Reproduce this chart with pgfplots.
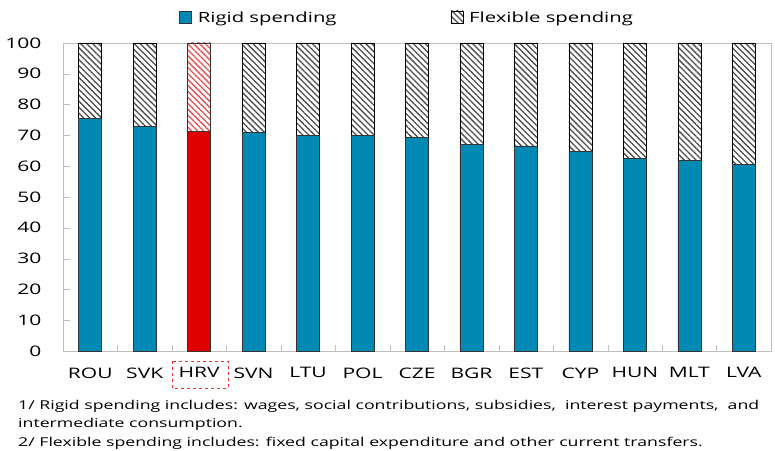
\documentclass[border=0pt]{standalone}
\usepackage{fontspec}
\setmainfont{Open Sans}[FakeStretch=1.45]
\usepackage{pgfplots}
\pgfplotsset{compat=1.18}
\usetikzlibrary{patterns.meta}

\definecolor{rigid}{RGB}{0,137,178}
\definecolor{hrvred}{RGB}{224,0,0}
\definecolor{framegray}{RGB}{191,191,191}

% rigid share of spending, flexible = 100 - rigid
\pgfplotstableread{
x rigid rigidhrv flex flexhrv
0 75.5 0 24.5 0
1 73.0 0 27.0 0
2 0 71.4 0 28.6
3 71.0 0 29.0 0
4 70.1 0 29.9 0
5 69.9 0 30.1 0
6 69.3 0 30.7 0
7 67.2 0 32.8 0
8 66.6 0 33.4 0
9 64.8 0 35.2 0
10 62.5 0 37.5 0
11 62.0 0 38.0 0
12 60.6 0 39.4 0
}\spending

\begin{document}
\begin{tikzpicture}
\useasboundingbox (-63pt,-99pt) rectangle (712pt,351pt);
\begin{axis}[
  scale only axis, width=708pt, height=308pt,
  ybar stacked, bar width=23pt,
  xmin=-0.5, xmax=12.5, ymin=0, ymax=100,
  ytick={0,10,...,100},
  xtick={0,...,12},
  xticklabels={ROU,SVK,HRV,SVN,LTU,POL,CZE,BGR,EST,CYP,HUN,MLT,LVA},
  minor xtick={0.5,1.5,...,11.5},
  major x tick style={draw=none},
  minor x tick style={framegray},
  y tick style={framegray},
  major tick length=7pt, minor tick length=6pt,
  xtick pos=bottom, ytick pos=left,
  axis line style={framegray},
  tick label style={font=\fontsize{14.5}{17}\selectfont},
  /pgf/number format/assume math mode=true,
  xticklabel style={yshift=-13pt},
  yticklabel style={xshift=-18pt},
  legend style={at={(0.486,1)}, anchor=center, yshift=25pt, draw=none,
    font=\fontsize{14}{17}\selectfont, legend columns=2,
    /tikz/every even column/.append style={column sep=112pt}},
  legend image code/.code={\draw[#1] (0pt,-5pt) rectangle (12pt,7pt); \path (16pt,0pt);},
]
\addplot[fill=rigid, draw=black!80, line width=0.6pt] table[x=x,y=rigid] {\spending};
\addplot[fill=hrvred, draw=black!80, line width=0.6pt] table[x=x,y=rigidhrv] {\spending};
\addplot[pattern={Lines[angle=-45,distance=4.2pt,line width=1.3pt]}, pattern color=black!70, draw=black, line width=0.6pt] table[x=x,y=flex] {\spending};
\addplot[pattern={Lines[angle=-45,distance=4.2pt,line width=1.3pt]}, pattern color=hrvred!70, draw=black!80, line width=0.6pt] table[x=x,y=flexhrv] {\spending};
\legend{Rigid spending,,Flexible spending}
\end{axis}
\draw[hrvred!80, dashed, line width=0.8pt] (109pt,-10pt) rectangle (165pt,-37pt);
\begin{scope}[every node/.style={anchor=base west, inner sep=0pt, font=\fontsize{12.2}{15}\selectfont}]
\node at (-45pt,-58pt) {1/ Rigid spending includes: wages, social contributions, subsidies,\ \ interest payments,\ \ and};
\node at (-45pt,-76pt) {intermediate consumption.};
\node at (-45pt,-95pt) {2/ Flexible spending includes: fixed capital expenditure and other current transfers.};
\end{scope}
\end{tikzpicture}
\end{document}
